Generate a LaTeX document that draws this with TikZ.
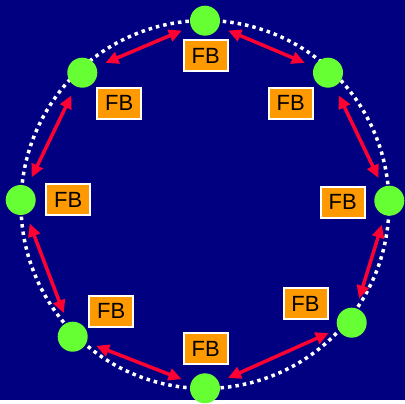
\documentclass[tikz,border=0pt]{standalone}
\usepackage{fontspec}
\setmainfont{Liberation Sans}
\usetikzlibrary{arrows.meta}
\definecolor{navy}{HTML}{000080}
\definecolor{ringgreen}{HTML}{66FF33}
\definecolor{fborange}{HTML}{FF9900}
\definecolor{linkred}{HTML}{FF0033}

\begin{document}
\begin{tikzpicture}[x=1pt,y=-1pt,>={Triangle[length=13pt,width=12pt]},
  station/.style={circle,fill=ringgreen,minimum size=30pt,inner sep=0pt},
  fbbox/.style={draw=white,line width=2pt,fill=fborange,minimum width=44pt,minimum height=31pt,inner sep=0pt,font=\fontsize{22}{24}\selectfont},
  link/.style={<->,linkred,line width=3.5pt,shorten <=10pt,shorten >=10pt}]
\fill[navy] (0,0) rectangle (405,400);
\draw[white,line width=3.5pt,dash pattern=on 3.5pt off 4pt] (205,204.5) circle[radius=184];
\node[station] (top) at (205,20.7) {};
\node[station] (topright) at (328,72.7) {};
\node[station] (right) at (389.3,200.7) {};
\node[station] (bottomright) at (351.7,322.7) {};
\node[station] (bottom) at (205,388.3) {};
\node[station] (bottomleft) at (72.7,336.7) {};
\node[station] (left) at (20.7,200) {};
\node[station] (topleft) at (82.3,72.7) {};
\node[fbbox] (fbtop) at (205.8,56) {FB};
\node[fbbox] (fbtopright) at (290.8,103.3) {FB};
\node[fbbox] (fbright) at (342.8,202.2) {FB};
\node[fbbox] (fbbottomright) at (305.5,303.8) {FB};
\node[fbbox] (fbbottom) at (205.8,348.7) {FB};
\node[fbbox] (fbbottomleft) at (111.3,311.2) {FB};
\node[fbbox] (fbleft) at (68.2,200) {FB};
\node[fbbox] (fbtopleft) at (119.2,103.3) {FB};
\draw[link] (top) -- (topright);
\draw[link] (topright) -- (right);
\draw[link] (right) -- (bottomright);
\draw[link] (bottomright) -- (bottom);
\draw[link] (bottom) -- (bottomleft);
\draw[link] (bottomleft) -- (left);
\draw[link] (left) -- (topleft);
\draw[link] (topleft) -- (top);
\end{tikzpicture}
\end{document}
